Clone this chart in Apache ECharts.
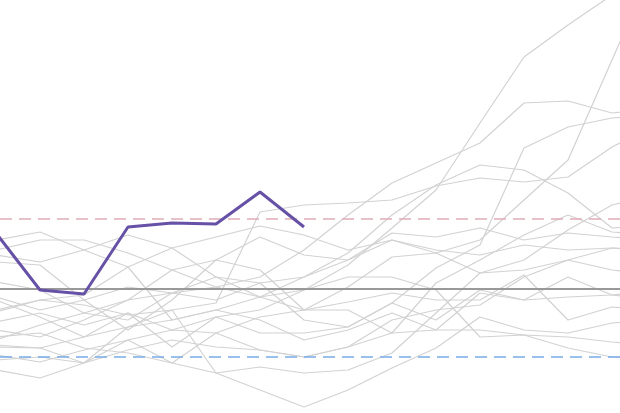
<!DOCTYPE html>
<html>
<head>
<meta charset="utf-8">
<script src="https://cdn.jsdelivr.net/npm/echarts@6/dist/echarts.min.js"></script>
<style>html,body{margin:0;padding:0;background:#fff;}#chart{width:620px;height:413px;}</style>
</head>
<body>
<div id="chart"></div>
<script>
// Step index of each observation (0..15)
const steps = [0,1,2,3,4,5,6,7,8,9,10,11,12,13,14,15];

// Highlighted series
const highlight = [5.6, -0.1, -0.5, 6.2, 6.6, 6.5, 9.7, 6.2];

// Background series
const g1  = [4.9, 5.7, 3.9, 5.4, 4.1, 5.2, 6.3, 5.4, 3.9, 4.9, 3.6, 1.6, 2.9, 5.9, 8.4, 9.4];
const g2  = [3.9, 4.9, 4.9, 3.6, 1.9, 2.9, 5.2, 3.4, 2.9, 5.6, 5.2, 6.1, 4.9, 5.6, 5.2, 4.9];
const g3  = [-2.1, -1.1, -1.6, -2.6, -2.1, -1.4, 7.7, 8.4, 8.6, 8.9, 10.3, 11.1, 10.7, 11.2, 14.2, 16.4];
const g4  = [-4.1, -4.8, -3.1, -1.1, -0.4, 0.2, 1.2, 3.9, 7.4, 10.6, 12.6, 14.6, 18.6, 18.8, 17.6, 18.1];
const g5  = [-1.1, -2.8, -4.8, -3.8, -3.1, -2.1, -0.8, -0.1, 2.4, 6.1, 9.9, 16.6, 23.2, 26.4, 29.4, 32.4];
const g6  = [-5.6, -5.9, -7.4, -5.1, -4.1, -4.4, -2.8, -2.1, 0.2, 3.2, 3.6, 4.9, 8.9, 12.9, 22.9, 32.9];
const g7  = [-3.3, -2.4, -3.6, -2.4, -5.8, -2.8, -4.4, -4.4, -3.8, -1.4, 2.1, 4.4, 14.1, 16.2, 17.1, 17.4];
const g8  = [2.7, 2.4, -1.1, 0.2, -0.4, 1.2, 0.6, 1.2, 3.6, 7.4, 10.4, 12.4, 11.9, 9.6, 6.1, 6.4];
const g9  = [0.7, -0.1, -2.4, -1.1, 1.9, 0.2, -0.8, 1.2, 2.9, 4.9, 3.9, 3.4, 4.4, 3.9, 4.1, 3.9];
const g10 = [-4.8, -4.4, -5.9, -6.4, -7.4, -4.4, -6.1, -6.8, -5.8, -4.4, 0.6, 2.9, 5.4, 7.4, 5.7, 5.4];
const g11 = [-8.1, -8.9, -7.4, -3.8, -2.1, -8.4, -7.8, -8.4, -8.1, -6.4, -2.4, 1.6, 1.9, 2.9, 4.1, 3.7];
const g12 = [-2.3, -1.1, -0.6, 2.2, -3.1, -2.1, -3.1, -5.1, -4.1, -2.4, -4.1, -0.4, -1.1, -0.8, -0.6, -0.1];
const g13 = [-6.6, -7.3, -6.1, -5.1, -7.4, -8.4, -10.1, -11.8, -10.1, -7.9, -5.9, -2.8, -4.1, -4.4, -3.4, -3.1];
const g14 = [-5.8, -5.9, -4.8, -2.4, -4.1, -2.8, -2.1, -0.1, 1.2, 1.2, -0.1, -4.8, -4.6, -4.8, -5.3, -5.6];
const g15 = [-0.8, -2.1, -1.1, -4.1, -1.1, 2.9, 1.9, -2.1, -2.1, -4.4, -4.1, -4.1, -4.6, -5.9, -6.8, -6.8];
const g16 = [3.4, 2.7, 3.9, 2.2, 4.1, 1.2, -0.8, -2.1, -1.3, -0.4, -1.1, -1.1, 1.4, -3.1, -1.8, -2.1];
const g17 = [-5.1, -3.6, -2.4, -3.1, -0.4, -1.1, 0.6, -3.1, -3.8, -1.4, -3.1, -0.1, -1.1, 1.2, -0.6, -1.1];
const g18 = [-7.1, -6.8, -7.4, -6.1, -5.1, -5.8, -6.1, -6.8, -5.8, -3.1, -2.1, -1.6, 1.2, 2.9, 1.9, 1.4];

const background = [g1,g2,g3,g4,g5,g6,g7,g8,g9,g10,g11,g12,g13,g14,g15,g16,g17,g18];

// Reference levels
const meanLevel = 0;
const upperLevel = 7.0;
const lowerLevel = -6.8;

function pairs(arr){ return arr.map((v,i)=>[steps[i], v]); }

const series = background.map(arr => ({
  type: 'line',
  data: pairs(arr),
  symbol: 'none',
  silent: true,
  z: 2,
  lineStyle: { color: '#d2d2d2', width: 1.2 }
}));

series.push({
  type: 'line',
  data: [],
  symbol: 'none',
  z: 3,
  markLine: {
    silent: true,
    symbol: 'none',
    label: { show: false },
    data: [
      { yAxis: meanLevel, lineStyle: { color: '#999999', width: 2, type: 'solid' } },
      { yAxis: upperLevel, lineStyle: { color: '#e0adb6', width: 1.6, type: [12, 7] } },
      { yAxis: lowerLevel, lineStyle: { color: '#78aae6', width: 1.6, type: [12, 7] } }
    ]
  }
});

series.push({
  type: 'line',
  data: pairs(highlight),
  symbol: 'none',
  z: 5,
  lineStyle: { color: '#6651a6', width: 3 }
});

const chart = echarts.init(document.getElementById('chart'));
chart.setOption({
  animation: false,
  backgroundColor: '#ffffff',
  grid: { left: 0, right: 0, top: 0, bottom: 0 },
  xAxis: { type: 'value', min: 4/44, max: 624/44, show: false, splitLine: { show: false } },
  yAxis: { type: 'value', min: -12.4, max: 28.9, show: false, splitLine: { show: false } },
  series: series
});
</script>
</body>
</html>
